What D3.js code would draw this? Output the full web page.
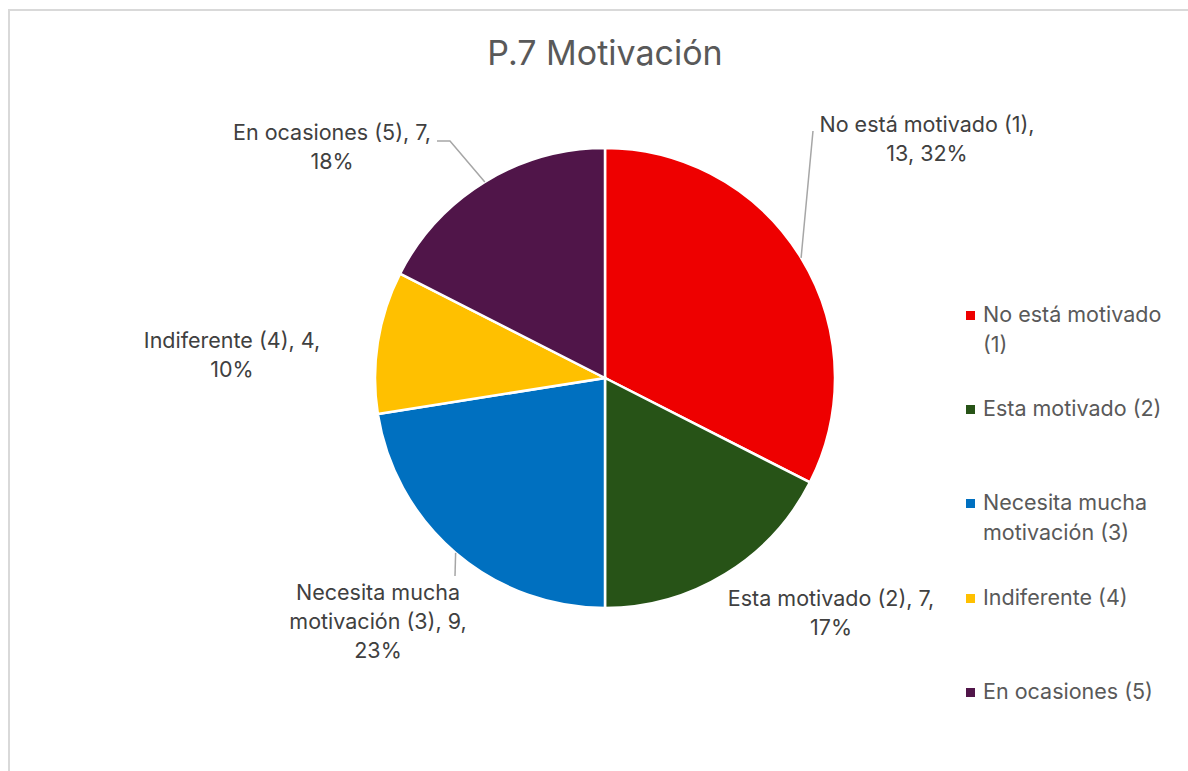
<!DOCTYPE html>
<html>
<head>
<meta charset="utf-8">
<script src="https://cdn.jsdelivr.net/npm/d3@7"></script>
<style>
    body { margin: 0; background: #fff; }
    text { font-family: Inter, "Open Sans", sans-serif; }
</style>
</head>
<body>
<div id="chart-ctn"></div>
<script>
// Chart data
let categories = [
    "No está motivado (1)",
    "Esta motivado (2)",
    "Necesita mucha motivación (3)",
    "Indiferente (4)",
    "En ocasiones (5)",
];
let counts = [13, 7, 9, 4, 7];
let percents = ["32%", "17%", "23%", "10%", "18%"];
let colors = ["#ee0000", "#275317", "#0070c0", "#ffc000", "#501549"];

// Label text lines as Excel wrapped them
let labelLines = [
    ["No está motivado (1),", "13, 32%"],
    ["Esta motivado (2), 7,", "17%"],
    ["Necesita mucha", "motivación (3), 9,", "23%"],
    ["Indiferente (4), 4,", "10%"],
    ["En ocasiones (5), 7,", "18%"],
];
let legendLines = [
    ["No está motivado", "(1)"],
    ["Esta motivado (2)"],
    ["Necesita mucha", "motivación (3)"],
    ["Indiferente (4)"],
    ["En ocasiones (5)"],
];

let width = 1188;
let height = 771;
let cx = 605;
let cy = 378;
let radius = 230;
let lineH = 29;

// label layout: center x, first baseline y, leader points
let labelPos = [
    { x: 927, y: 132, leader: [[813, 131]] },
    { x: 831, y: 606, leader: null },
    { x: 378, y: 600, leader: [[455, 576]] },
    { x: 232, y: 348, leader: null },
    { x: 332, y: 140, leader: [[450, 141], [437, 141]] },
];
let legendY = [322, 416, 510, 605, 699];

function draw() {
    let svg = d3
        .select("#chart-ctn")
        .append("svg")
        .attr("width", width)
        .attr("height", height);

    // chart area frame
    svg.append("rect")
        .attr("x", 9)
        .attr("y", 10)
        .attr("width", width + 20)
        .attr("height", height + 20)
        .attr("fill", "#fff")
        .attr("stroke", "#d9d9d9")
        .attr("stroke-width", 2);

    svg.append("text")
        .attr("x", cx)
        .attr("y", 65)
        .attr("text-anchor", "middle")
        .attr("fill", "#595959")
        .style("font-size", "34px")
        .text("P.7 Motivación");

    let pie = d3.pie().sort(null).value((d) => d);
    let arcs = pie(counts);
    let arc = d3.arc().innerRadius(0).outerRadius(radius);

    let g = svg.append("g").attr("transform", `translate(${cx}, ${cy})`);

    g.selectAll("path.slice")
        .data(arcs)
        .join("path")
        .attr("class", "slice")
        .attr("d", arc)
        .attr("fill", (d, i) => colors[i])
        .attr("stroke", "#fff")
        .attr("stroke-width", 2.5);

    // leader lines from slice edge midpoint to the label
    arcs.forEach(function (a, i) {
        let lp = labelPos[i];
        if (!lp.leader) return;
        let mid = (a.startAngle + a.endAngle) / 2;
        let pts = [[cx + radius * Math.sin(mid), cy - radius * Math.cos(mid)]].concat(lp.leader);
        svg.append("path")
            .attr("d", d3.line()(pts))
            .attr("fill", "none")
            .attr("stroke", "#a6a6a6")
            .attr("stroke-width", 1.5);
    });

    // data labels
    labelLines.forEach(function (lines, i) {
        let t = svg.append("text")
            .attr("text-anchor", "middle")
            .attr("fill", "#404040")
            .style("font-size", "21.5px");
        lines.forEach(function (s, j) {
            t.append("tspan")
                .attr("x", labelPos[i].x)
                .attr("y", labelPos[i].y + j * lineH)
                .text(s);
        });
    });

    // legend
    legendLines.forEach(function (lines, i) {
        svg.append("rect")
            .attr("x", 966)
            .attr("y", legendY[i] - 11)
            .attr("width", 9)
            .attr("height", 9)
            .attr("fill", colors[i]);
        let t = svg.append("text")
            .attr("fill", "#595959")
            .style("font-size", "21.5px");
        lines.forEach(function (s, j) {
            t.append("tspan")
                .attr("x", 983)
                .attr("y", legendY[i] + j * 30)
                .text(s);
        });
    });
}

draw();
</script>
</body>
</html>
